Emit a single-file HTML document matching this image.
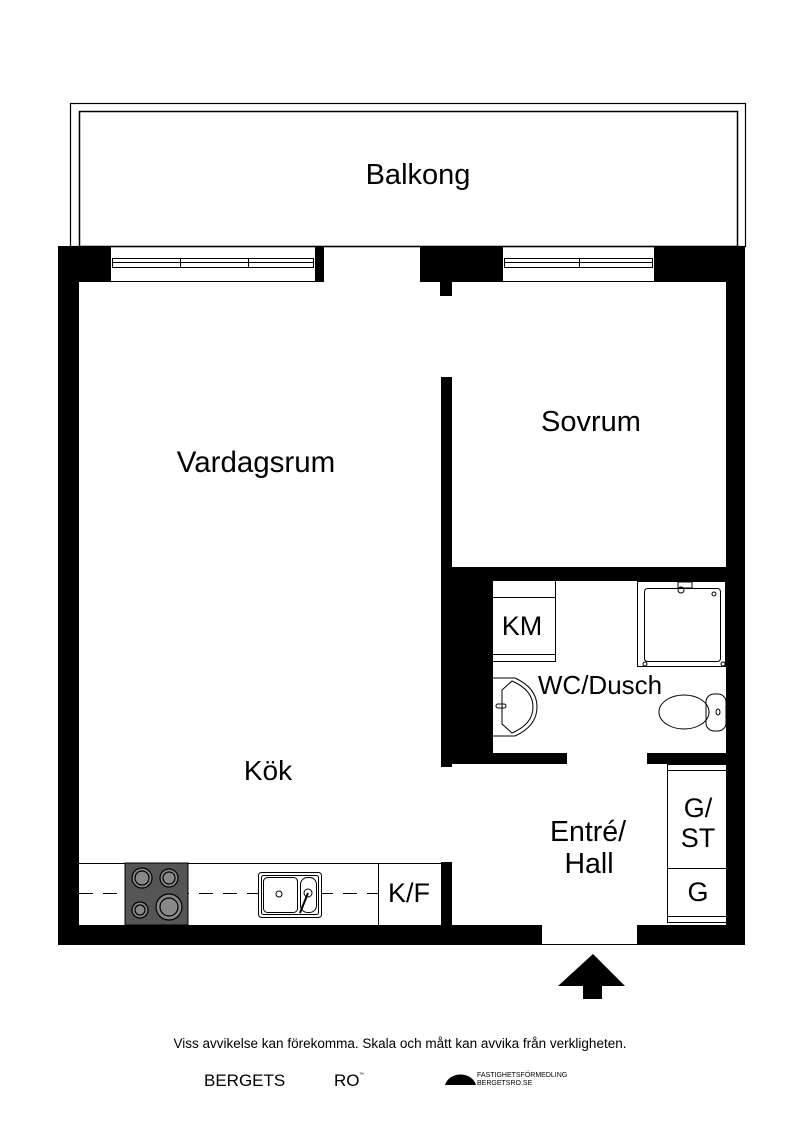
<!DOCTYPE html>
<html><head><meta charset="utf-8"><style>
html,body{margin:0;padding:0;background:#fff;width:800px;height:1131px;overflow:hidden}
svg{display:block}
text{font-family:"Liberation Sans",sans-serif;fill:#000}
</style></head><body>
<svg width="800" height="1131" viewBox="0 0 800 1131" xmlns="http://www.w3.org/2000/svg">
<rect x="70.5" y="103.5" width="675" height="143" fill="none" stroke="#000" stroke-width="1.2"/>
<rect x="79.5" y="111.5" width="658" height="135" fill="none" stroke="#000" stroke-width="1.5"/>
<text x="418" y="184" font-size="29" text-anchor="middle">Balkong</text>
<rect x="58" y="246" width="52" height="36" fill="#000"/>
<rect x="316" y="246" width="8" height="36" fill="#000"/>
<rect x="420" y="246" width="82" height="36" fill="#000"/>
<rect x="440" y="280" width="12" height="16" fill="#000"/>
<rect x="655" y="246" width="90" height="36" fill="#000"/>
<g fill="none" stroke="#000" stroke-width="1">
<rect x="110.5" y="246.5" width="205" height="35"/>
<rect x="112.5" y="258.5" width="201" height="9"/>
<line x1="112" y1="262.5" x2="314" y2="262.5"/>
<line x1="180.5" y1="258" x2="180.5" y2="268"/><line x1="248.5" y1="258" x2="248.5" y2="268"/>
<rect x="502.5" y="246.5" width="152" height="35"/>
<rect x="504.5" y="258.5" width="148" height="9"/>
<line x1="504" y1="262.5" x2="653" y2="262.5"/>
<line x1="579.5" y1="258" x2="579.5" y2="268"/>
</g>
<rect x="58" y="246" width="21" height="699" fill="#000"/>
<rect x="726" y="246" width="19" height="699" fill="#000"/>
<rect x="58" y="925" width="484" height="20" fill="#000"/>
<rect x="637" y="925" width="108" height="20" fill="#000"/>
<line x1="542" y1="944.5" x2="637" y2="944.5" stroke="#000" stroke-width="1"/>
<rect x="441" y="377" width="11" height="390" fill="#000"/>
<rect x="441" y="567" width="290" height="14" fill="#000"/>
<rect x="441" y="567" width="52" height="197" fill="#000"/>
<rect x="441" y="753" width="126" height="11" fill="#000"/>
<rect x="647" y="753" width="84" height="11" fill="#000"/>
<rect x="441" y="862" width="11" height="65" fill="#000"/>
<g fill="none" stroke="#000" stroke-width="1">
<rect x="492.5" y="580.5" width="63" height="81"/>
<line x1="492" y1="597.5" x2="556" y2="597.5"/>
<line x1="492" y1="654.5" x2="556" y2="654.5"/>
<rect x="637.5" y="581.5" width="88" height="85"/>
<rect x="644.5" y="588.5" width="76" height="73" rx="3"/>
<circle cx="714" cy="594" r="2"/>
<circle cx="645" cy="664" r="2"/><circle cx="723" cy="664" r="2"/>
<rect x="678" y="582" width="14" height="6"/>
<circle cx="681" cy="590" r="3"/>
<path d="M493 678 L515 678 Q537 688 537 707 Q537 726 515 736 L493 736"/>
<path d="M502 690 L512 681 Q533 690 533 707 Q533 724 512 733 L502 724 Z"/>
<rect x="496" y="704" width="10" height="4" rx="2"/>
<ellipse cx="684" cy="712" rx="25" ry="17"/>
<rect x="706" y="694" width="20" height="37" rx="8"/>
<ellipse cx="718" cy="712" rx="2" ry="3"/>
<rect x="667.5" y="764.5" width="59" height="158"/>
<line x1="667" y1="770.5" x2="727" y2="770.5"/>
<line x1="667" y1="868.5" x2="727" y2="868.5"/>
<line x1="667" y1="916.5" x2="727" y2="916.5"/>
<line x1="79" y1="863.5" x2="441" y2="863.5"/>
<line x1="378.5" y1="863" x2="378.5" y2="925"/>
<line x1="79" y1="893.5" x2="378" y2="893.5" stroke-dasharray="14,10"/>
</g>
<rect x="125" y="863" width="63" height="62" fill="#555" stroke="#000"/>
<g fill="#888" stroke="#000" stroke-width="1.2">
<circle cx="142" cy="878" r="10"/><circle cx="142" cy="878" r="7"/>
<circle cx="169" cy="878" r="9"/><circle cx="169" cy="878" r="6"/>
<circle cx="140" cy="910" r="8"/><circle cx="140" cy="910" r="5"/>
<circle cx="169" cy="907" r="13"/><circle cx="169" cy="907" r="9"/>
</g>
<g fill="none" stroke="#000" stroke-width="1">
<rect x="258.5" y="872.5" width="63" height="45" rx="3" fill="#fff"/>
<rect x="261.5" y="875.5" width="57" height="39" rx="2"/>
<rect x="263.5" y="877.5" width="34" height="35" rx="4"/>
<rect x="300.5" y="877.5" width="16" height="35" rx="7"/>
<circle cx="279" cy="894" r="3"/>
<circle cx="308" cy="893" r="4"/>
<line x1="308" y1="893" x2="300" y2="913" stroke-width="2"/>
</g>
<polygon points="593,954 625,986 602,986 602,999 583,999 583,986 558,986" fill="#000"/>
<g text-anchor="middle">
<text x="256" y="472" font-size="29.5">Vardagsrum</text>
<text x="591" y="431" font-size="29">Sovrum</text>
<text x="268" y="780" font-size="28">Kök</text>
<text x="522" y="635" font-size="27">KM</text>
<text x="600" y="694" font-size="26">WC/Dusch</text>
<text x="588" y="841" font-size="28.5">Entré/</text>
<text x="589" y="873" font-size="28.5">Hall</text>
<text x="698" y="817" font-size="27">G/</text>
<text x="698" y="847" font-size="27">ST</text>
<text x="698" y="901" font-size="27">G</text>
<text x="409" y="902" font-size="27">K/F</text>
</g>
<text x="400" y="1048" font-size="13.5" text-anchor="middle">Viss avvikelse kan förekomma. Skala och mått kan avvika från verkligheten.</text>
<text x="204" y="1086" font-size="17">BERGETS</text>
<text x="334" y="1086" font-size="17">RO</text>
<text x="359" y="1076" font-size="5">™</text>
<path d="M445 1085 A16 14 0 0 1 476 1085 Z" fill="#000"/>
<text x="477" y="1077" font-size="7">FASTIGHETSFÖRMEDLING</text>
<text x="477" y="1085" font-size="7">BERGETSRO.SE</text>
</svg>
</body></html>
